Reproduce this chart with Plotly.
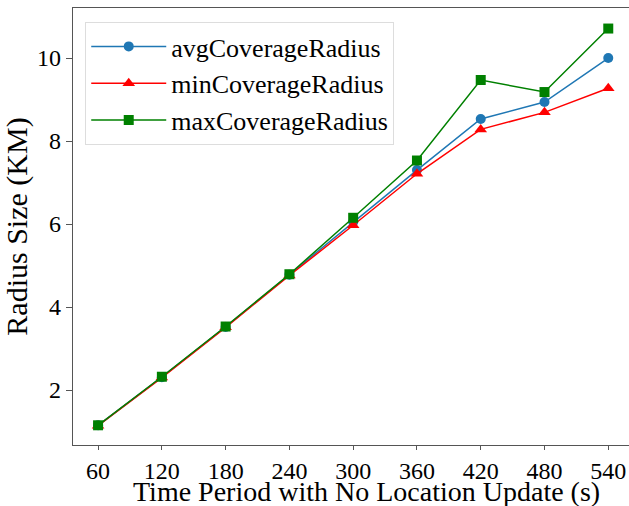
import plotly.graph_objects as go

time_s = [60, 120, 180, 240, 300, 360, 420, 480, 540]
avg_radius = [1.15, 2.31, 3.52, 4.78, 6.05, 7.30, 8.53, 8.94, 10.00]
min_radius = [1.14, 2.30, 3.51, 4.76, 5.97, 7.21, 8.28, 8.69, 9.27]
max_radius = [1.15, 2.32, 3.53, 4.79, 6.15, 7.53, 9.47, 9.18, 10.71]
x_ticks = [60, 120, 180, 240, 300, 360, 420, 480, 540]
y_ticks = [2, 4, 6, 8, 10]
x_title = "Time Period with No Location Update (s)"
y_title = "Radius Size (KM)"

FONT = "Liberation Serif"
W, H = 629, 506
M_L, M_R, M_T, M_B = 73, 0, 8, 61
plot_h = H - M_T - M_B
plot_w = W - M_L - M_R

fig = go.Figure()
fig.add_trace(go.Scatter(x=time_s, y=avg_radius, mode="lines+markers", name="avgCoverageRadius",
                         line=dict(color="#1f77b4", width=1.5),
                         marker=dict(symbol="circle", size=10, color="#1f77b4")))
fig.add_trace(go.Scatter(x=time_s, y=min_radius, mode="lines+markers", name="minCoverageRadius",
                         line=dict(color="red", width=1.5),
                         marker=dict(symbol="triangle-up", size=11, color="red")))
fig.add_trace(go.Scatter(x=time_s, y=max_radius, mode="lines+markers", name="maxCoverageRadius",
                         line=dict(color="green", width=1.5),
                         marker=dict(symbol="square", size=10, color="green")))

fig.update_layout(
    width=W, height=H,
    margin=dict(l=M_L, r=M_R, t=M_T, b=M_B),
    paper_bgcolor="white", plot_bgcolor="white",
    font=dict(family=FONT, size=24, color="black"),
    legend=dict(x=0.022, y=0.968, xanchor="left", yanchor="top",
                bgcolor="rgba(255,255,255,0.8)", bordercolor="#dddddd", borderwidth=1,
                font=dict(family=FONT, size=26), itemwidth=75),
    showlegend=True,
)
# x-axis title as an annotation sitting on the bottom edge of the page
fig.add_annotation(text=x_title, xref="paper", yref="paper",
                   x=(366 - M_L) / plot_w, y=-M_B / plot_h, xanchor="center", yanchor="bottom",
                   yshift=-2, showarrow=False, borderpad=0,
                   font=dict(family=FONT, size=28, color="black"))

fig.update_xaxes(range=[36.4, 559.5], tickvals=x_ticks, ticktext=[str(t) for t in x_ticks],
                 showline=True, linecolor="#555555", linewidth=1.2, mirror=True,
                 ticks="outside", ticklen=4, tickcolor="#555555", showgrid=False, zeroline=False,
                 tickfont=dict(family=FONT, size=24))
fig.update_yaxes(range=[0.675, 11.205], tickvals=y_ticks, ticktext=[str(t) for t in y_ticks],
                 showline=True, linecolor="#555555", linewidth=1.2, mirror=False,
                 ticks="outside", ticklen=6, tickcolor="#555555", showgrid=False, zeroline=False,
                 tickfont=dict(family=FONT, size=24),
                 title=dict(text=y_title, font=dict(family=FONT, size=30), standoff=6))

fig.write_html("out.html")
